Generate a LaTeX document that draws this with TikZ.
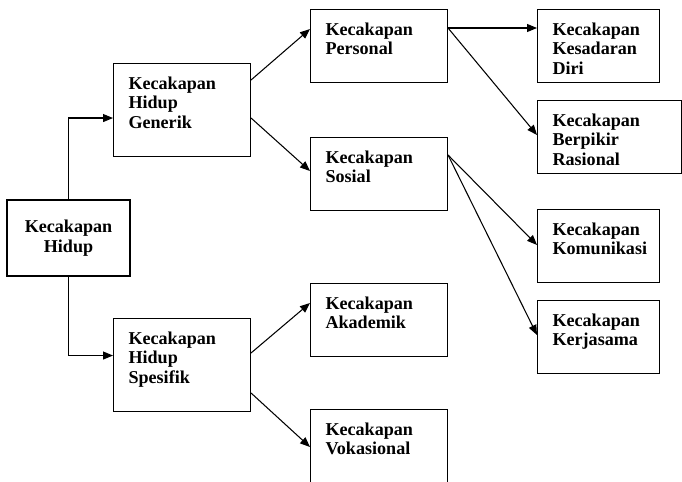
\documentclass[tikz,border=0pt]{standalone}
\usepackage{fontspec}
\setmainfont{Liberation Serif}
\usetikzlibrary{arrows.meta}

\begin{document}
\begin{tikzpicture}[
      x=0.02cm, y=-0.02cm,
      box/.style={draw, line width=0.6pt, anchor=north west, align=left, inner xsep=0.3cm, inner ysep=0pt, text width=2.14cm, text height=0.52cm, text depth=0.94cm, font=\bfseries\fontsize{10.3}{11}\selectfont},
      tall/.style={text depth=1.34cm},
      narrow/.style={text width=1.84cm},
      rootbox/.style={draw, line width=1.3pt, align=center, minimum width=2.46cm, minimum height=1.52cm, font=\bfseries\fontsize{10.3}{11}\selectfont},
      arr/.style={-{Triangle[length=2mm, width=1.6mm]}, line width=0.6pt}
    ]
      \useasboundingbox (0,0) rectangle (682,481);

      \node[rootbox] (hidup) at (68.5,238) {Kecakapan\\Hidup};

      \node[box, tall] (generik) at (113,63) {Kecakapan\\Hidup\\Generik};
      \node[box, tall] (spesifik) at (113,318) {Kecakapan\\Hidup\\Spesifik};

      \node[box] (personal) at (310,9) {Kecakapan\\Personal};
      \node[box] (sosial) at (310,137) {Kecakapan\\Sosial};
      \node[box] (akademik) at (310,283) {Kecakapan\\Akademik};
      \node[box, text depth=0.98cm] (vokasional) at (310,409) {Kecakapan\\Vokasional};

      \node[box, narrow] (kesadaran) at (537,9) {Kecakapan\\Kesadaran\\Diri};
      \node[box, text width=2.28cm] (berpikir) at (537,100) {Kecakapan\\Berpikir\\Rasional};
      \node[box, narrow] (komunikasi) at (537,209) {Kecakapan\\Komunikasi};
      \node[box, narrow] (kerjasama) at (537,300) {Kecakapan\\Kerjasama};

      \draw[arr] (hidup.north) |- ([yshift=-0.16cm]generik.west);
      \draw[arr] (hidup.south) |- ([yshift=0.19cm]spesifik.west);

      \draw[arr] ([yshift=-0.34cm]generik.north east) -- ([yshift=-0.4cm]personal.north west);
      \draw[arr] ([yshift=-1.1cm]generik.north east) -- ([yshift=-0.68cm]sosial.north west);
      \draw[arr] ([yshift=-0.7cm]spesifik.north east) -- ([yshift=-0.4cm]akademik.north west);
      \draw[arr] ([yshift=-1.5cm]spesifik.north east) -- ([yshift=-0.76cm]vokasional.north west);

      \draw[arr] ([yshift=-0.38cm]personal.north east) -- ([yshift=-0.38cm]kesadaran.north west);
      \draw[arr] ([yshift=-0.38cm]personal.north east) -- ([yshift=-0.7cm]berpikir.north west);
      \draw[arr] ([yshift=-0.36cm]sosial.north east) -- ([yshift=-0.72cm]komunikasi.north west);
      \draw[arr] ([yshift=-0.36cm]sosial.north east) -- ([yshift=-0.7cm]kerjasama.north west);
    \end{tikzpicture}
\end{document}
